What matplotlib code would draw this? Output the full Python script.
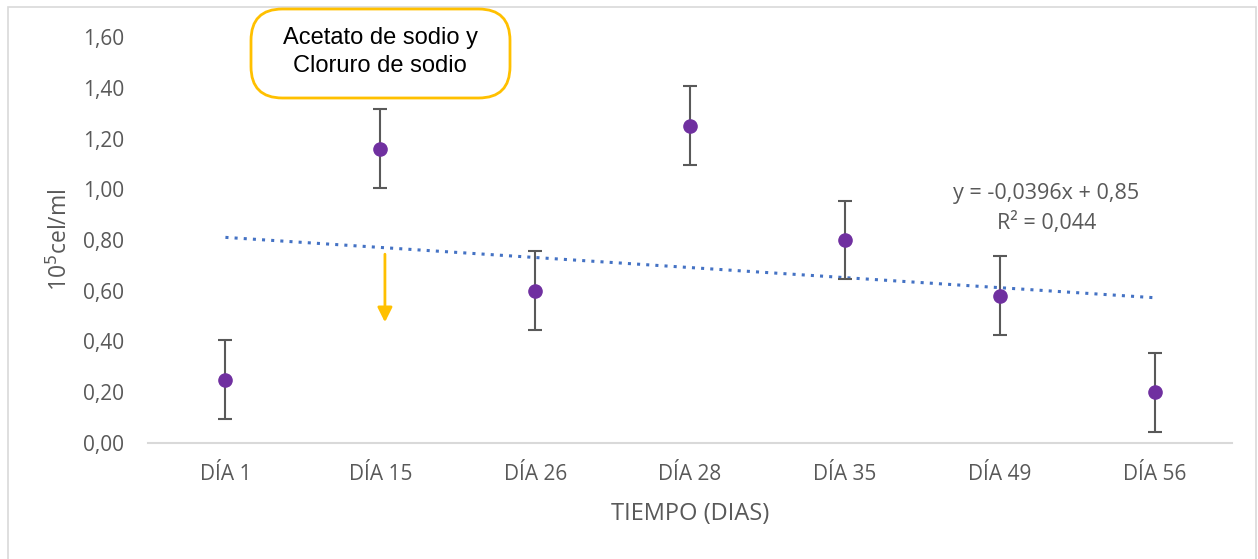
import matplotlib
matplotlib.use("Agg")
import matplotlib.pyplot as plt
import numpy as np
from matplotlib.patches import Rectangle, FancyBboxPatch

categories = ["DÍA 1", "DÍA 15", "DÍA 26", "DÍA 28", "DÍA 35", "DÍA 49", "DÍA 56"]
values = [0.25, 1.16, 0.60, 1.25, 0.80, 0.58, 0.20]
errors = [0.155, 0.155, 0.155, 0.155, 0.155, 0.155, 0.155]
yticks = [0.0, 0.2, 0.4, 0.6, 0.8, 1.0, 1.2, 1.4, 1.6]

W, H = 1258, 559
fig = plt.figure(figsize=(W/100, H/100), dpi=100)
fig.patch.set_facecolor("white")
fig.patches.append(Rectangle((8/W, -0.05), (1256-8)/W, 1 - 7/H + 0.05, transform=fig.transFigure,
                             fill=False, edgecolor="#D9D9D9", linewidth=1.2))

axw = 1232 - 148
ax = fig.add_axes([148/W, 1-443/H, axw/W, (443-37)/H])
x = np.arange(len(categories))
ax.errorbar(x, values, yerr=errors, fmt="o", color="#7030A0", markersize=9.5,
            ecolor="#595959", elinewidth=1.5, capsize=5, capthick=1.5, zorder=3)

xn = x + 1
slope, intercept = np.polyfit(xn, values, 1)
ax.plot(x, slope*xn + intercept, linestyle=(0, (1, 2)), color="#4472C4", linewidth=2.2, zorder=2)

ax.set_xlim(-0.5, len(categories)-0.5)
ax.set_ylim(0, 1.6)
ax.set_yticks(yticks)
ax.set_yticklabels([f"{v:.2f}".replace(".", ",") for v in yticks])
ax.set_xticks(x)
ax.set_xticklabels(categories)
for s in ["top", "right", "left"]:
    ax.spines[s].set_visible(False)
ax.spines["bottom"].set_color("#D9D9D9")
ax.spines["bottom"].set_linewidth(1.5)
ax.tick_params(axis="both", length=0, labelsize=15, labelcolor="#595959")
ax.tick_params(axis="x", pad=15)
ax.tick_params(axis="y", pad=17)
for lbl in ax.get_xticklabels() + ax.get_yticklabels():
    lbl.set_fontfamily("Open Sans")

ax.set_xlabel("TIEMPO (DIAS)", fontsize=17, color="#595959", family="Open Sans")
ax.xaxis.set_label_coords(0.5, -(514-443)/(443-37), transform=ax.transAxes)
ax.xaxis.label.set_va("center")
ax.set_ylabel(r"10$^{5}$cel/ml", fontsize=16.5, color="#595959", family="Open Sans")
ax.yaxis.set_label_coords(-(148-60)/axw, 0.5)
ax.yaxis.label.set_va("center")

ax.text(5.3, 0.985, "y = -0,0396x + 0,85", ha="center", va="center", fontsize=15.5,
        color="#595959", family="Open Sans")
ax.text(5.3, 0.867, "R² = 0,044", ha="center", va="center", fontsize=15.5,
        color="#595959", family="Open Sans")

# annotation box
box = FancyBboxPatch((251/W, 1-98/H), (510-251)/W, (98-9)/H, transform=fig.transFigure,
                     boxstyle="round,pad=0,rounding_size=0.025", mutation_aspect=W/H,
                     facecolor="white", edgecolor="#FFC000", linewidth=2)
fig.patches.append(box)
fig.text(380/W, 1-52/H, "Acetato de sodio y\nCloruro de sodio", ha="center", va="center",
         fontsize=17, family="Liberation Sans", color="black", linespacing=1.38)

ax.annotate("", xy=(1.03, 0.465), xytext=(1.03, 0.755),
            arrowprops=dict(arrowstyle="-|>", color="#FFC000", lw=2, mutation_scale=22))

fig.savefig("out.png", dpi=100)
